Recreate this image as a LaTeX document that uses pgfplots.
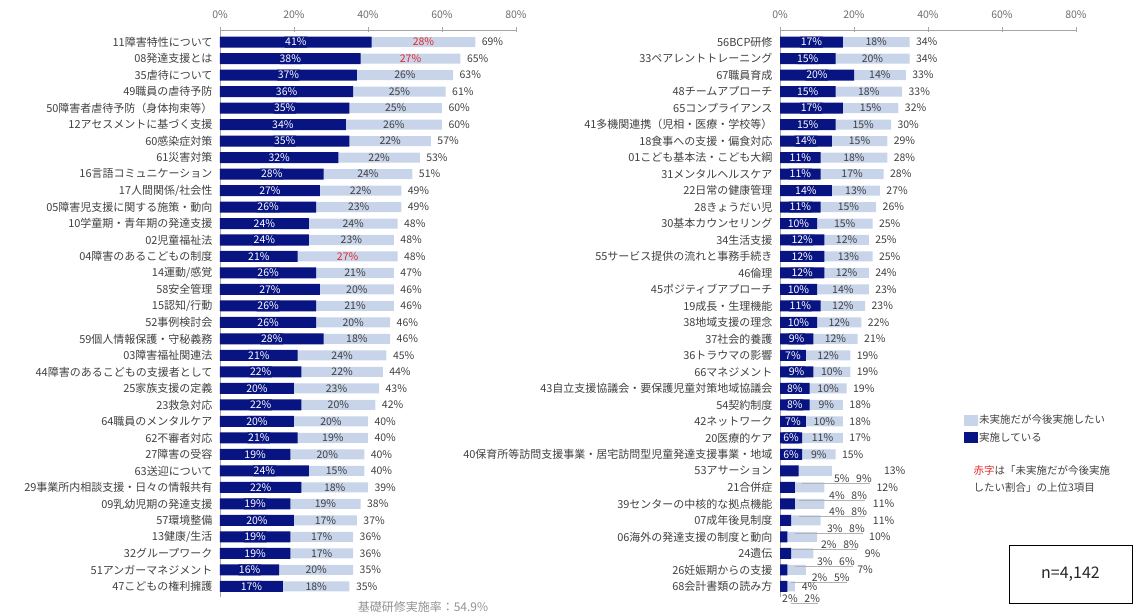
\documentclass[border=0pt]{standalone}
\usepackage{fontspec}
\setmainfont{Noto Sans CJK JP}
\usepackage{pgfplots}
\usepackage{pgfplotstable}
\pgfplotsset{compat=1.18}
\definecolor{navy}{RGB}{8,20,130}
\definecolor{lightc}{RGB}{200,212,234}
\definecolor{txt}{RGB}{64,64,64}
\definecolor{redc}{RGB}{230,40,40}
\newcommand{\labfont}{\fontsize{11}{12}\selectfont}
\newcommand{\valfont}{\fontsize{10.5}{11}\selectfont}

\pgfplotstableread[col sep=comma]{
idx,label,dark,light,total,red
33,11障害特性について,41,28,69,1
32,08発達支援とは,38,27,65,1
31,35虐待について,37,26,63,0
30,49職員の虐待予防,36,25,61,0
29,50障害者虐待予防（身体拘束等）,35,25,60,0
28,12アセスメントに基づく支援,34,26,60,0
27,60感染症対策,35,22,57,0
26,61災害対策,32,22,53,0
25,16言語コミュニケーション,28,24,51,0
24,17人間関係/社会性,27,22,49,0
23,05障害児支援に関する施策・動向,26,23,49,0
22,10学童期・青年期の発達支援,24,24,48,0
21,02児童福祉法,24,23,48,0
20,04障害のあるこどもの制度,21,27,48,1
19,14運動/感覚,26,21,47,0
18,58安全管理,27,20,46,0
17,15認知/行動,26,21,46,0
16,52事例検討会,26,20,46,0
15,59個人情報保護・守秘義務,28,18,46,0
14,03障害福祉関連法,21,24,45,0
13,44障害のあるこどもの支援者として,22,22,44,0
12,25家族支援の定義,20,23,43,0
11,23救急対応,22,20,42,0
10,64職員のメンタルケア,20,20,40,0
9,62不審者対応,21,19,40,0
8,27障害の受容,19,20,40,0
7,63送迎について,24,15,40,0
6,29事業所内相談支援・日々の情報共有,22,18,39,0
5,09乳幼児期の発達支援,19,19,38,0
4,57環境整備,20,17,37,0
3,13健康/生活,19,17,36,0
2,32グループワーク,19,17,36,0
1,51アンガーマネジメント,16,20,35,0
0,47こどもの権利擁護,17,18,35,0
}\lefttab

\pgfplotstableread[col sep=comma]{
idx,label,dark,light,total
33,56BCP研修,17,18,34
32,33ペアレントトレーニング,15,20,34
31,67職員育成,20,14,33
30,48チームアプローチ,15,18,33
29,65コンプライアンス,17,15,32
28,41多機関連携（児相・医療・学校等）,15,15,30
27,18食事への支援・偏食対応,14,15,29
26,01こども基本法・こども大綱,11,18,28
25,31メンタルヘルスケア,11,17,28
24,22日常の健康管理,14,13,27
23,28きょうだい児,11,15,26
22,30基本カウンセリング,10,15,25
21,34生活支援,12,12,25
20,55サービス提供の流れと事務手続き,12,13,25
19,46倫理,12,12,24
18,45ポジティブアプローチ,10,14,23
17,19成長・生理機能,11,12,23
16,38地域支援の理念,10,12,22
15,37社会的養護,9,12,21
14,36トラウマの影響,7,12,19
13,66マネジメント,9,10,19
12,43自立支援協議会・要保護児童対策地域協議会,8,10,19
11,54契約制度,8,9,18
10,42ネットワーク,7,10,18
9,20医療的ケア,6,11,17
8,40保育所等訪問支援事業・居宅訪問型児童発達支援事業・地域,6,9,15
}\rA

\pgfplotstableread[col sep=comma]{
idx,label,dark,light,total,px,tx,dy
7,53アサーション,5,9,13,19.7,31,0.48
6,21合併症,4,8,12,18.4,29,0.48
5,39センターの中核的な拠点機能,4,8,11,18.4,28,0.48
4,07成年後見制度,3,8,11,17.8,28,0.48
3,06海外の発達支援の制度と動向,2,8,10,16.2,27,0.48
2,24遺伝,3,6,9,15.1,25,0.48
1,26妊娠期からの支援,2,5,7,13.7,23,0.48
0,68会計書類の読み方,2,2,4,5.7,8,0.73
}\rB

\pgfplotsset{
  panel/.style={
    scale only axis, width=296pt, height=567pt,
    xmin=0, xmax=80, ymin=-0.64, ymax=33.73,
    axis x line=top, axis y line=left,
    axis line style={-, draw=gray!70, line width=0.8pt},
    xtick={0,20,40,60,80},
    xticklabels={0\%,20\%,40\%,60\%,80\%},
    ytick=\empty,
    tick align=center, major tick length=5pt,
    tick style={draw=gray!70, line width=0.8pt},
    xticklabel style={font=\valfont, text=gray!85!black, yshift=5pt},
    clip=false,
  },
  catlab/.style={draw=none, forget plot, point meta=explicit symbolic,
    nodes near coords={\pgfplotspointmeta},
    every node near coord/.style={anchor=east, font=\labfont, text=txt, xshift=-4pt}},
  darklab/.style={draw=none, forget plot, point meta=explicit symbolic,
    nodes near coords={\pgfplotspointmeta\%},
    every node near coord/.style={anchor=center, fill=navy, text=white, rounded corners=3pt,
      inner xsep=3pt, inner ysep=1.5pt, font=\valfont}},
  lightlab/.style={draw=none, forget plot, point meta=explicit symbolic,
    nodes near coords={\pgfplotspointmeta\%},
    every node near coord/.style={anchor=center, font=\valfont, text=txt}},
  redlab/.style={draw=none, forget plot, point meta=explicit symbolic,
    nodes near coords={\pgfplotspointmeta\%},
    every node near coord/.style={anchor=center, font=\valfont, text=redc}},
  totlab/.style={draw=none, forget plot, point meta=explicit symbolic,
    nodes near coords={\pgfplotspointmeta\%},
    every node near coord/.style={anchor=west, font=\valfont, text=txt, xshift=3pt}},
  lbar/.style={xbar, fill=lightc, draw=none, bar width=10pt, forget plot},
  dbar/.style={xbar, fill=navy, draw=none, bar width=11pt, forget plot},
}

\begin{document}
\begin{tikzpicture}
\path[use as bounding box] (0pt,0pt) rectangle (1136pt,615pt);

% ---------- left panel ----------
\begin{axis}[panel, at={(220pt,585pt)}, anchor=north west]
\addplot[lbar] table[x expr=\thisrow{dark}+\thisrow{light}, y=idx]{\lefttab};
\addplot[dbar] table[x=dark, y=idx]{\lefttab};
\addplot[catlab] table[x expr=0, y=idx, meta=label]{\lefttab};
\addplot[darklab] table[x expr=0.5*\thisrow{dark}, y=idx, meta=dark]{\lefttab};
\addplot[lightlab, restrict expr to domain={\thisrow{red}}{0:0}]
  table[x expr=\thisrow{dark}+0.5*\thisrow{light}, y=idx, meta=light]{\lefttab};
\addplot[redlab, restrict expr to domain={\thisrow{red}}{1:1}]
  table[x expr=\thisrow{dark}+0.5*\thisrow{light}, y=idx, meta=light]{\lefttab};
\addplot[totlab] table[x expr=\thisrow{dark}+\thisrow{light}, y=idx, meta=total]{\lefttab};
\end{axis}

% ---------- right panel ----------
\begin{axis}[panel, at={(780pt,585pt)}, anchor=north west,
  legend style={at={(0.62,0.325)}, anchor=north west, draw=none, fill=none,
    font=\fontsize{10.5}{12}\selectfont, text=txt, row sep=3pt,
    inner sep=0pt, cells={anchor=west}},
  legend cell align=left]
\addplot[lbar] table[x expr=\thisrow{dark}+\thisrow{light}, y=idx]{\rA};
\addplot[dbar] table[x=dark, y=idx]{\rA};
\addplot[lbar] table[x expr=\thisrow{dark}+\thisrow{light}, y=idx]{\rB};
\addplot[dbar] table[x=dark, y=idx]{\rB};
\addplot[catlab] table[x expr=0, y=idx, meta=label]{\rA};
\addplot[catlab] table[x expr=0, y=idx, meta=label]{\rB};
\addplot[darklab] table[x expr=0.5*\thisrow{dark}, y=idx, meta=dark]{\rA};
\addplot[lightlab] table[x expr=\thisrow{dark}+0.5*\thisrow{light}, y=idx, meta=light]{\rA};
\addplot[totlab] table[x expr=\thisrow{dark}+\thisrow{light}, y=idx, meta=total]{\rA};
% small rows: leader lines under the segment values
\addplot[draw=none, mark=none, forget plot,
  error bars/.cd, x dir=both, x explicit, error mark=none,
  error bar style={draw=gray!60, line width=0.6pt}]
  table[x expr=0.5*(\thisrow{dark}+1+\thisrow{px}+4.5), y expr=\thisrow{idx}-\thisrow{dy}-0.28,
        x error expr=0.5*(\thisrow{px}+4.5-\thisrow{dark}-1)]{\rB};
% small rows: segment values below the bar, total further right
\addplot[lightlab] table[x expr=\thisrow{px}-3, y expr=\thisrow{idx}-\thisrow{dy}, meta=dark]{\rB};
\addplot[lightlab] table[x expr=\thisrow{px}+3, y expr=\thisrow{idx}-\thisrow{dy}, meta=light]{\rB};
\addplot[lightlab] table[x=tx, y=idx, meta=total]{\rB};
\addlegendimage{legend image code/.code={\fill[lightc] (0pt,-5pt) rectangle (13pt,5pt);}}
\addlegendentry{未実施だが今後実施したい}
\addlegendimage{legend image code/.code={\fill[navy] (0pt,-5pt) rectangle (13pt,5pt);}}
\addlegendentry{実施している}
\end{axis}

% ---------- notes ----------
\node[anchor=west, font=\fontsize{10.5}{12}\selectfont, text=txt] at (970pt,144pt)
  {\textcolor{redc}{赤字}は「未実施だが今後実施};
\node[anchor=west, font=\fontsize{10.5}{12}\selectfont, text=txt] at (970pt,127.5pt)
  {したい割合」の上位3項目};
\node[draw=black, line width=0.8pt, minimum width=123pt, minimum height=58pt,
  font=\fontsize{16}{18}\selectfont, text=black!85] at (1070.5pt,41pt) {n=4,142};
\node[font=\fontsize{12}{13}\selectfont, text=gray!85] at (423pt,8pt) {基礎研修実施率：54.9\%};
\end{tikzpicture}
\end{document}
